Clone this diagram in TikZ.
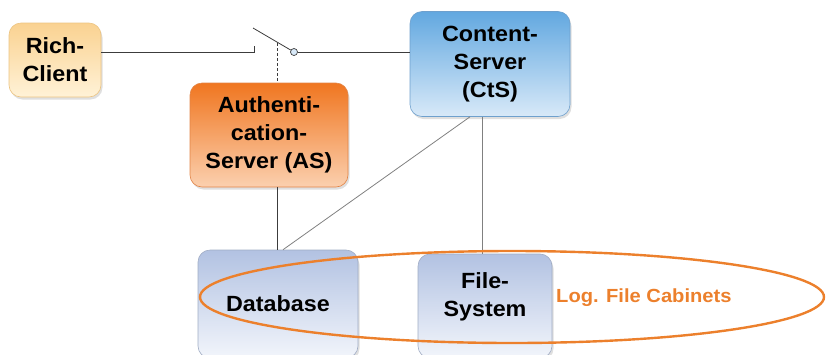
\documentclass[tikz,border=0pt]{standalone}
\usepackage{fontspec}
\setmainfont{Liberation Sans}[FakeStretch=1.06]
\usetikzlibrary{shadows,shapes.geometric,positioning}

\definecolor{clienttop}{RGB}{250,210,145}
\definecolor{clientbot}{RGB}{255,242,215}
\definecolor{clientline}{RGB}{236,196,130}
\definecolor{authtop}{RGB}{240,118,32}
\definecolor{authbot}{RGB}{251,208,175}
\definecolor{authline}{RGB}{226,132,70}
\definecolor{ctstop}{RGB}{98,168,224}
\definecolor{ctsbot}{RGB}{216,233,248}
\definecolor{ctsline}{RGB}{110,160,205}
\definecolor{storetop}{RGB}{178,194,226}
\definecolor{storebot}{RGB}{242,245,251}
\definecolor{storeline}{RGB}{160,172,196}
\definecolor{cabinet}{RGB}{236,128,44}
\definecolor{wire}{RGB}{60,60,60}

\begin{document}
\begin{tikzpicture}[
    x=1pt, y=-1pt,
    font=\bfseries\fontsize{22}{28}\selectfont,
    box/.style={rounded corners=12pt, align=center, inner sep=0pt, line width=.6pt,
      drop shadow={shadow xshift=1.5pt, shadow yshift=-2.5pt, opacity=.25}},
    client/.style={box, draw=clientline, top color=clienttop, bottom color=clientbot},
    auth/.style={box, draw=authline, top color=authtop, bottom color=authbot},
    cts/.style={box, draw=ctsline, top color=ctstop, bottom color=ctsbot},
    store/.style={box, draw=storeline, top color=storetop, bottom color=storebot},
    wire/.style={draw=wire, line width=.8pt}
  ]
  \useasboundingbox (0,0) rectangle (827,354);

  % boxes
  \node[client, minimum width=92pt, minimum height=74pt] (client) at (55,60) {Rich-\\Client};
  \node[auth, minimum width=158pt, minimum height=104pt] (as) at (269,135) {Authenti-\\cation-\\Server (AS)};
  \node[cts, minimum width=160pt, minimum height=105pt] (cts) at (490,64) {Content-\\Server\\(CtS)};
  \node[store, minimum width=160pt, minimum height=108pt] (db) at (278,304) {Database};
  \node[store, minimum width=134pt, minimum height=104pt, text depth=22pt] (fs) at (485,306) {File-\\System};

  % switch between client and content server
  \coordinate (contact) at (254,52);
  \coordinate (lever) at (253,28);
  \coordinate (link) at (277,43);
  \node[circle, draw=wire, fill=ctsbot, line width=.7pt, minimum size=7pt, inner sep=0pt] (pivot) at (294,52) {};

  \path[wire] (client.east |- contact) -- (contact) -- ++(0,-6);
  \path[wire] (lever) -- (pivot);
  \path[wire] (pivot) -- (cts.west |- pivot);
  \path[wire, dashed, dash pattern=on 3pt off 2pt] (link) -- (link |- as.north);

  % connections down to storage
  \path[wire] (as.south -| link) -- (link |- db.north);
  \path[wire, draw=gray] ([xshift=-20pt]cts.south) -- ([xshift=5pt]db.north);
  \path[wire, draw=gray] ([xshift=-8pt]cts.south) -- ([xshift=-8pt]cts.south |- fs.north);

  % logical file cabinets
  \node[ellipse, draw=cabinet, line width=2.4pt, minimum width=624pt, minimum height=92pt] (cabinets) at (512,297) {};
  \node[anchor=west, text=cabinet, font=\bfseries\fontsize{19}{22}\selectfont, inner sep=0pt] (label) at (556,298) {Log. File Cabinets};
\end{tikzpicture}
\end{document}
